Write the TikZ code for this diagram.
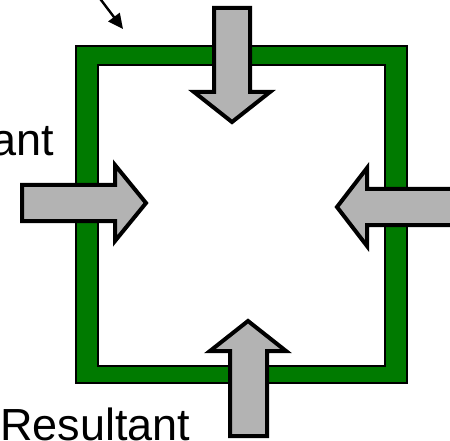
\documentclass[tikz,border=0pt]{standalone}
\usepackage{fontspec}
\setmainfont{Liberation Sans}
\usetikzlibrary{arrows.meta}
\definecolor{framegreen}{RGB}{0,122,0}
\definecolor{pushgray}{RGB}{179,179,179}
\tikzset{
  wall/.style={fill=framegreen, even odd rule, draw=black, line width=1.5pt},
  push/.style={fill=pushgray, draw=black, line width=4pt, line join=miter, miter limit=10},
  caption/.style={font=\fontsize{45}{50}\selectfont, inner sep=0pt},
  pointer/.style={draw=black, line width=2.4pt, -{Triangle[length=15pt,width=14pt]}}
}
\begin{document}
\begin{tikzpicture}[x=1pt,y=-1pt]
\useasboundingbox (0,0) rectangle (450,441);
\clip (0,0) rectangle (450,441);
% square wall of the vessel
\path[wall] (76,46) rectangle (407,383) (98,65) rectangle (385,366);
% pushing arrows on each side
\path[push] (214,8) -- (250,8) -- (250,92) -- (270,92) -- (232,122) -- (194,92) -- (214,92) -- cycle;
\path[push] (22,185) -- (115,185) -- (115,165) -- (146,203) -- (115,241) -- (115,221) -- (22,221) -- cycle;
\path[push] (460,189) -- (367,189) -- (367,168) -- (337,207) -- (367,246) -- (367,225) -- (460,225) -- cycle;
\path[push] (230,436) -- (230,351) -- (210,351) -- (248,321) -- (286,351) -- (267,351) -- (267,436) -- cycle;
% labels
\node[caption, anchor=base east] (leftlabel) at (54,156) {Resultant};
\node[caption, anchor=base west] (bottomlabel) at (0,440) {Resultant};
\coordinate (pstart) at (95,-8);
\coordinate (pend) at (123,29);
\draw[pointer] (pstart) -- (pend);
\end{tikzpicture}
\end{document}
